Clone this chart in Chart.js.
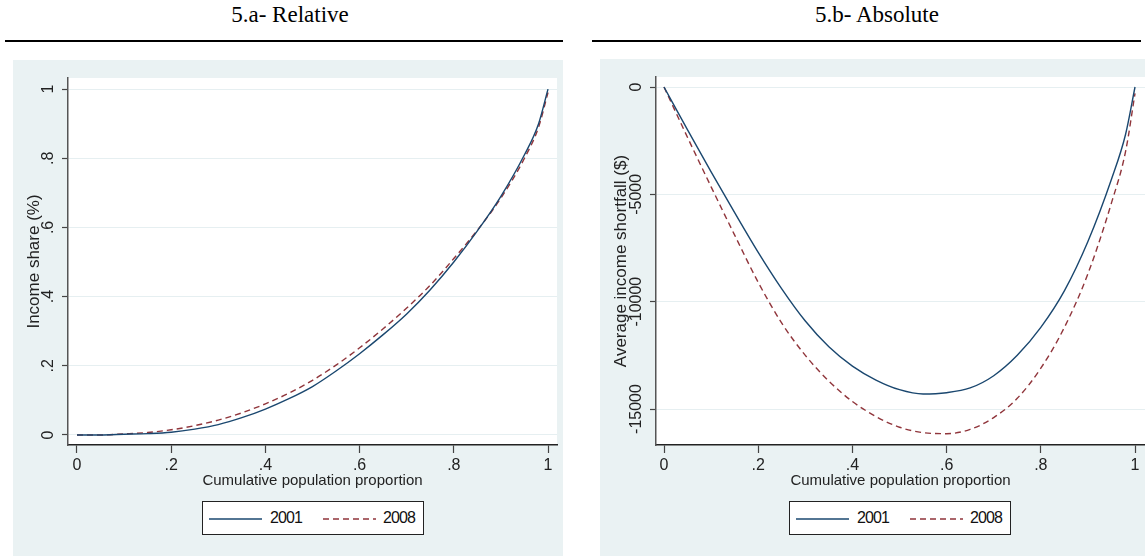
<!DOCTYPE html>
<html>
<head>
<meta charset="utf-8">
<script src="https://cdn.jsdelivr.net/npm/chart.js@4.4.1/dist/chart.umd.min.js"></script>
<style>
  body { margin:0; width:1145px; height:556px; background:#fff; position:relative; overflow:hidden;
         font-family:"Liberation Sans", Arial, sans-serif; }
  .title { position:absolute; top:2px; width:300px; text-align:center; color:#000;
           font-family:"Liberation Serif", "Times New Roman", serif; font-size:23px; }
  .rule { position:absolute; top:40px; height:2px; background:#000; }
  .panel { position:absolute; background:#eaf2f3; }
  canvas { position:absolute; }
  .legend { position:absolute; top:501px; width:220px; height:32px; border:1px solid #222; background:#fff; }
  .legend svg { position:absolute; top:0; left:0; }
  .legend span { position:absolute; top:7px; font-size:16px; letter-spacing:-0.9px; color:#111; }
</style>
</head>
<body>

<div class="title" style="left:140px">5.a- Relative</div>
<div class="rule" style="left:5px; width:558px"></div>
<div class="title" style="left:727px">5.b- Absolute</div>
<div class="rule" style="left:592px; width:549px"></div>

<div class="panel" style="left:13px; top:60px; width:550px; height:496px"></div>
<div class="panel" style="left:600px; top:59px; width:545px; height:497px"></div>

<canvas id="relChart" width="550" height="496" style="left:13px; top:60px"></canvas>
<canvas id="absChart" width="545" height="497" style="left:600px; top:59px"></canvas>

<div class="legend" style="left:202px">
  <svg width="220" height="32">
    <line x1="6" y1="17" x2="59" y2="17" stroke="#1a476f" stroke-width="1.4"/>
    <line x1="120" y1="17" x2="173" y2="17" stroke="#90353b" stroke-width="1.4" stroke-dasharray="6,4"/>
  </svg>
  <span style="left:67px">2001</span>
  <span style="left:180px">2008</span>
</div>
<div class="legend" style="left:789px">
  <svg width="220" height="32">
    <line x1="6" y1="17" x2="59" y2="17" stroke="#1a476f" stroke-width="1.4"/>
    <line x1="120" y1="17" x2="173" y2="17" stroke="#90353b" stroke-width="1.4" stroke-dasharray="6,4"/>
  </svg>
  <span style="left:67px">2001</span>
  <span style="left:180px">2008</span>
</div>

<script>
// ---- data ----
const popX = [0, .05, .10, .15, .20, .25, .30, .35, .40, .45, .50, .55, .60, .65, .70, .75, .80, .85, .90, .95, .98, 1];

// 5.a relative: income share
const share2001 = [0, 0, .002, .004, .008, .017, .030, .050, .075, .105, .140, .185, .235, .290, .350, .420, .500, .590, .690, .810, .900, 1];
const share2008 = [0, 0, .003, .007, .015, .027, .043, .064, .090, .121, .158, .202, .252, .307, .367, .433, .510, .592, .685, .800, .890, .990];

// 5.b absolute: average income shortfall ($)
const gap2001 = [0, -2000, -3950, -5850, -7700, -9400, -10900, -12100, -13000, -13650, -14100, -14300, -14240, -14020, -13450, -12500, -11200, -9500, -7200, -4300, -2200, 0];
const gap2008 = [0, -2350, -4650, -6900, -9100, -11000, -12500, -13700, -14650, -15350, -15850, -16100, -16150, -15950, -15400, -14500, -13100, -11200, -8700, -5400, -3000, -300];

const xTicks = [0, .2, .4, .6, .8, 1];
const xTickLabels = ['0', '.2', '.4', '.6', '.8', '1'];
const shareTicks = [0, .2, .4, .6, .8, 1];
const shareTickLabels = ['0', '.2', '.4', '.6', '.8', '1'];
const gapTicks = [-15000, -10000, -5000, 0];
const gapTickLabels = ['-15000', '-10000', '-5000', '0'];

const FONT = '"Liberation Sans", Arial, sans-serif';

// white plot region + rotated y tick labels (Stata style)
const stataLook = {
    id: 'stataLook',
    beforeDraw(chart) {
        const { ctx, chartArea: a } = chart;
        ctx.save();
        ctx.fillStyle = '#fff';
        ctx.fillRect(a.left, a.top, a.right - a.left, a.bottom - a.top);
        ctx.restore();
    },
    afterDraw(chart, args, opts) {
        const { ctx } = chart;
        const y = chart.scales.y;
        ctx.save();
        ctx.font = '16px ' + FONT;
        ctx.fillStyle = '#222';
        ctx.textAlign = 'center';
        ctx.textBaseline = 'middle';
        y.ticks.forEach((t, i) => {
            const py = y.getPixelForValue(t.value);
            ctx.save();
            ctx.translate(y.right - 19, py);
            ctx.rotate(-Math.PI / 2);
            ctx.fillText(opts.labels[i], 0, 0);
            ctx.restore();
        });
        ctx.restore();
    }
};

function toPts(ys) {
    return popX.map((x, i) => ({ x: x, y: ys[i] }));
}

function makePanel(id, s2001, s2008, cfg) {
    return new Chart(document.getElementById(id), {
        type: 'line',
        data: {
            datasets: [{
                label: '2001',
                data: toPts(s2001),
                borderColor: '#1a476f',
                borderWidth: 1.4,
                pointRadius: 0,
                cubicInterpolationMode: 'monotone'
            }, {
                label: '2008',
                data: toPts(s2008),
                borderColor: '#90353b',
                borderWidth: 1.4,
                borderDash: [6, 4],
                pointRadius: 0,
                cubicInterpolationMode: 'monotone'
            }]
        },
        plugins: [stataLook],
        options: {
            responsive: false,
            animation: false,
            events: [],
            layout: { padding: { top: 18, right: cfg.padRight, bottom: 62, left: 0 } },
            plugins: {
                legend: { display: false },
                tooltip: { enabled: false },
                stataLook: { labels: cfg.yLabels }
            },
            scales: {
                x: {
                    type: 'linear',
                    min: cfg.xMin, max: cfg.xMax,
                    afterBuildTicks: (s) => { s.ticks = xTicks.map(v => ({ value: v })); },
                    afterFit: (s) => { s.height = 49; },
                    ticks: {
                        callback: (v, i) => xTickLabels[i],
                        font: { size: 16, family: FONT },
                        color: '#222',
                        padding: 3,
                        maxRotation: 0
                    },
                    grid: { drawOnChartArea: false, tickLength: 8, tickColor: '#444', tickWidth: 1.2 },
                    border: { color: '#222', width: 1.5 },
                    title: {
                        display: true,
                        text: 'Cumulative population proportion',
                        font: { size: 15, family: FONT },
                        color: '#222',
                        padding: { top: 0, bottom: 4 }
                    }
                },
                y: {
                    type: 'linear',
                    min: cfg.yMin, max: cfg.yMax,
                    afterBuildTicks: (s) => { s.ticks = cfg.yTicks.map(v => ({ value: v })); },
                    afterFit: (s) => { s.width = cfg.yWidth; },
                    ticks: { display: false },
                    grid: { color: '#e6eff1', lineWidth: 1, tickLength: 6, tickColor: '#444', tickWidth: 1.2 },
                    border: { color: '#555', width: 1.5 },
                    title: {
                        display: true,
                        text: cfg.yTitle,
                        font: { size: 17, family: FONT },
                        color: '#222',
                        padding: { top: 11, bottom: 0 }
                    }
                }
            }
        }
    });
}

makePanel('relChart', share2001, share2008, {
    xMin: -0.0191, xMax: 1.0191,
    yMin: -0.029, yMax: 1.032,
    yTicks: shareTicks, yLabels: shareTickLabels,
    yTitle: 'Income share (%)',
    yWidth: 55, padRight: 6
});

makePanel('absChart', gap2001, gap2008, {
    xMin: -0.017, xMax: 1.0212,
    yMin: -16677, yMax: 466,
    yTicks: gapTicks, yLabels: gapTickLabels,
    yTitle: 'Average income shortfall ($)',
    yWidth: 56, padRight: 0
});
</script>
</body>
</html>
